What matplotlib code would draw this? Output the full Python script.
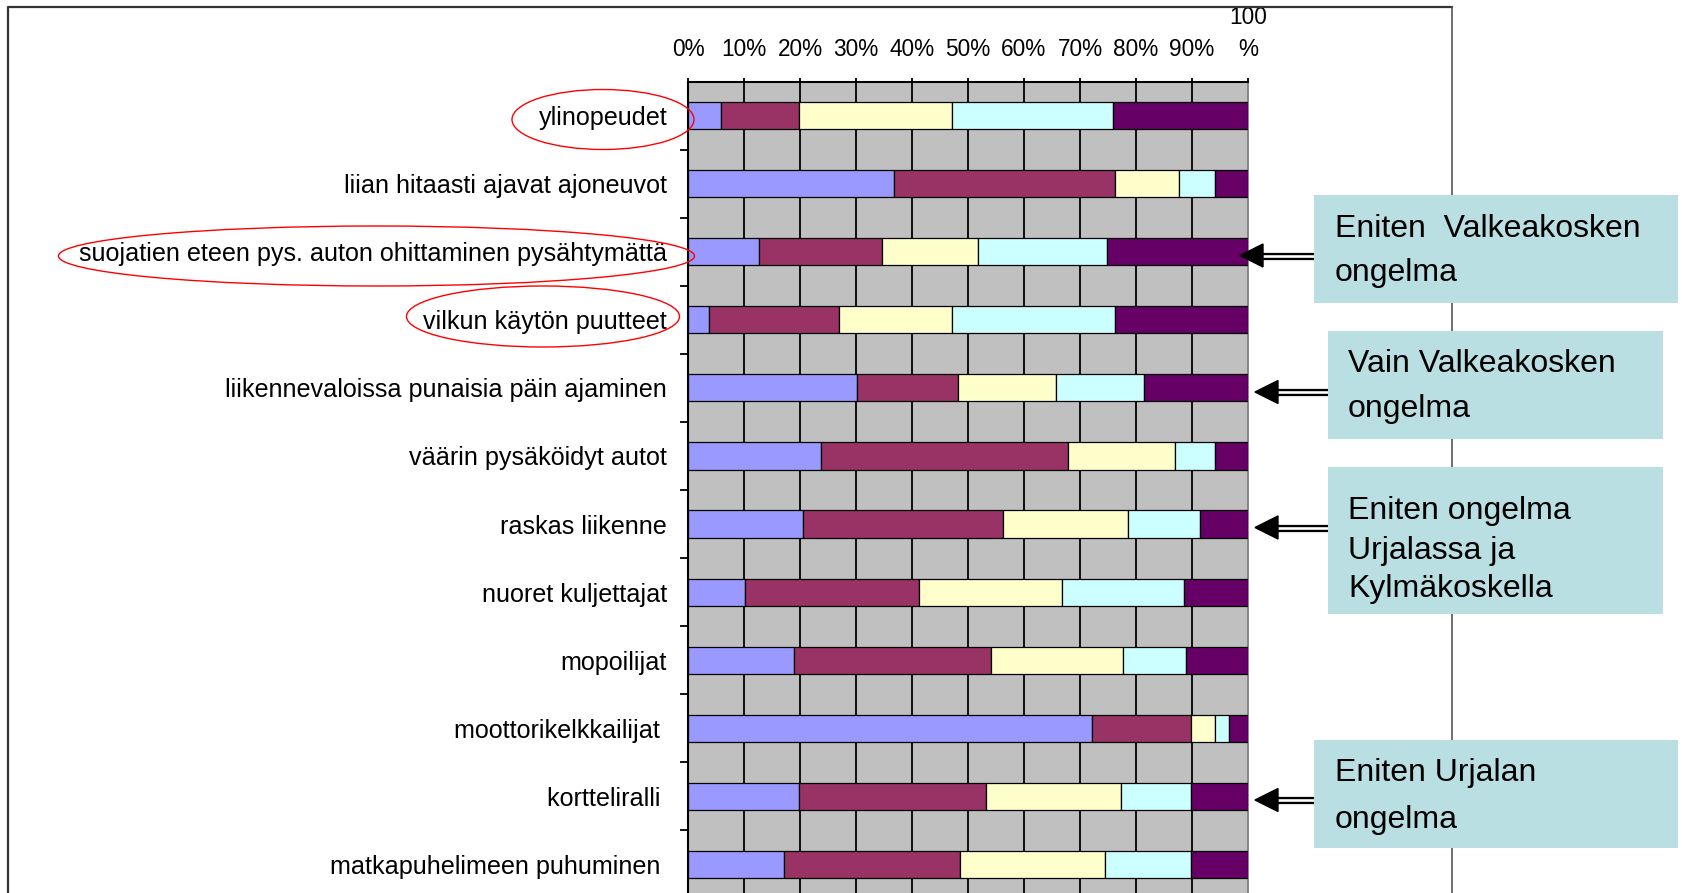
import numpy as np
import matplotlib.pyplot as plt
from matplotlib.patches import Ellipse, Rectangle, Polygon
from matplotlib.lines import Line2D
from matplotlib.transforms import Affine2D

W, H = 1682, 893
plt.rcParams['font.family'] = ['Liberation Sans', 'DejaVu Sans']

categories = ['ylinopeudet',
              'liian hitaasti ajavat ajoneuvot',
              'suojatien eteen pys. auton ohittaminen pysähtymättä',
              'vilkun käytön puutteet',
              'liikennevaloissa punaisia päin ajaminen',
              'väärin pysäköidyt autot',
              'raskas liikenne',
              'nuoret kuljettajat',
              'mopoilijat',
              'moottorikelkkailijat ',
              'kortteliralli ',
              'matkapuhelimeen puhuminen ']
seg1 = [5.9, 36.7, 12.7, 3.7, 30.2, 23.7, 20.5, 10.2, 18.9, 72.2, 19.8, 17.2]
seg2 = [13.9, 39.6, 22.0, 23.3, 18.1, 44.2, 35.7, 31.1, 35.2, 17.6, 33.5, 31.4]
seg3 = [27.4, 11.3, 17.1, 20.2, 17.4, 19.0, 22.3, 25.4, 23.6, 4.3, 24.1, 25.9]
seg4 = [28.7, 6.5, 23.1, 29.1, 15.7, 7.2, 13.0, 21.9, 11.3, 2.5, 12.4, 15.3]
seg5 = [24.1, 5.9, 25.1, 23.7, 18.6, 5.9, 8.5, 11.4, 11.0, 3.4, 10.2, 10.2]
colors = ['#9999FF', '#993366', '#FFFFCC', '#CCFFFF', '#660066']
tick_labels = ['0%', '10%', '20%', '30%', '40%', '50%', '60%', '70%', '80%', '90%', '100\n%']

fig = plt.figure(figsize=(W / 100, H / 100), dpi=100)
# pixel coords, y from top
pix = Affine2D().scale(1 / W, -1 / H).translate(0, 1) + fig.transFigure

ax = fig.add_axes([688 / W, 1 - 898.5 / H, 560 / W, 817 / H])
ax.set_facecolor('#C0C0C0')

y = np.arange(len(categories))
left = np.zeros(len(categories))
for vals, c in zip([seg1, seg2, seg3, seg4, seg5], colors):
    ax.barh(y, vals, left=left, height=0.4, color=c, edgecolor='black', linewidth=0.9, zorder=3)
    left += np.array(vals)

ax.vlines(np.arange(10, 100, 10), -0.5, 11.5, color='black', linewidth=1.3, zorder=1)
ax.set_xlim(0, 100)
ax.set_ylim(11.5, -0.5)

ax.xaxis.tick_top()
ax.set_xticks(np.arange(0, 101, 10))
ax.set_xticklabels(tick_labels, fontsize=16.3)
ax.tick_params(axis='x', direction='out', length=3, width=1.3, pad=12)
ax.xaxis.get_major_ticks()[-1].label2.set_linespacing(1.5)

ax.set_yticks(y)
ax.set_yticklabels(categories, fontsize=18.1)
ax.tick_params(axis='y', which='major', length=0, pad=15)
ax.set_yticks(np.arange(0.5, 11, 1), minor=True)
ax.tick_params(axis='y', which='minor', length=6, width=1.3, direction='out')

ax.spines['top'].set_linewidth(1.5)
ax.spines['left'].set_linewidth(1.5)
ax.spines['right'].set_color('#808080')
ax.spines['right'].set_linewidth(1.3)
ax.spines['bottom'].set_visible(False)

# page frame
fig.add_artist(Line2D([8, 8, 1452], [H + 5, 7, 7], transform=pix, color='#333333', lw=1.6, zorder=1))
fig.add_artist(Line2D([1452, 1452], [7, H + 5], transform=pix, color='#555555', lw=1.2, zorder=1))

# red circles around labels
for (cx, cy, w, h) in [(603, 119.5, 182, 60), (376.5, 256, 636, 60), (543, 316.5, 273, 61)]:
    fig.add_artist(Ellipse((cx, cy), w, h, transform=pix, fill=False, edgecolor='red', lw=1.0, zorder=3))


def arrow(xtip, yy, xtail):
    hb = xtip + 23
    fig.add_artist(Line2D([hb - 1, xtail], [yy, yy], transform=pix, color='black', lw=5.2,
                          solid_capstyle='butt', zorder=2))
    fig.add_artist(Line2D([hb - 1, xtail], [yy, yy], transform=pix, color='white', lw=1.9,
                          solid_capstyle='butt', zorder=2.1))
    fig.add_artist(Polygon([[xtip, yy], [hb, yy - 11.5], [hb, yy + 11.5]], closed=True,
                           transform=pix, color='black', zorder=2.2))


arrow(1240, 255.5, 1316)
arrow(1255, 392, 1330)
arrow(1255, 527.5, 1330)
arrow(1255, 800, 1316)

box_color = '#B9DFE2'
for (bx, by, bw, bh) in [(1314, 195, 364, 108), (1328, 331, 335, 108),
                         (1328, 467, 335, 147), (1314, 740, 364, 108)]:
    fig.add_artist(Rectangle((bx, by), bw, bh, transform=pix, facecolor=box_color,
                             edgecolor='none', zorder=2.5))

box_lines = [(1335, 236.7, 'Eniten  Valkeakosken'), (1335, 281, 'ongelma'),
             (1348, 372, 'Vain Valkeakosken'), (1348, 417, 'ongelma'),
             (1348, 519, 'Eniten ongelma'), (1348, 559, 'Urjalassa ja'),
             (1348, 597.5, 'Kylmäkoskella'),
             (1335, 781, 'Eniten Urjalan'), (1335, 828, 'ongelma')]
for tx, ty, s in box_lines:
    fig.text(tx, ty, s, transform=pix, fontsize=23, ha='left', va='baseline', zorder=3)

fig.savefig('out.png', dpi=100)
